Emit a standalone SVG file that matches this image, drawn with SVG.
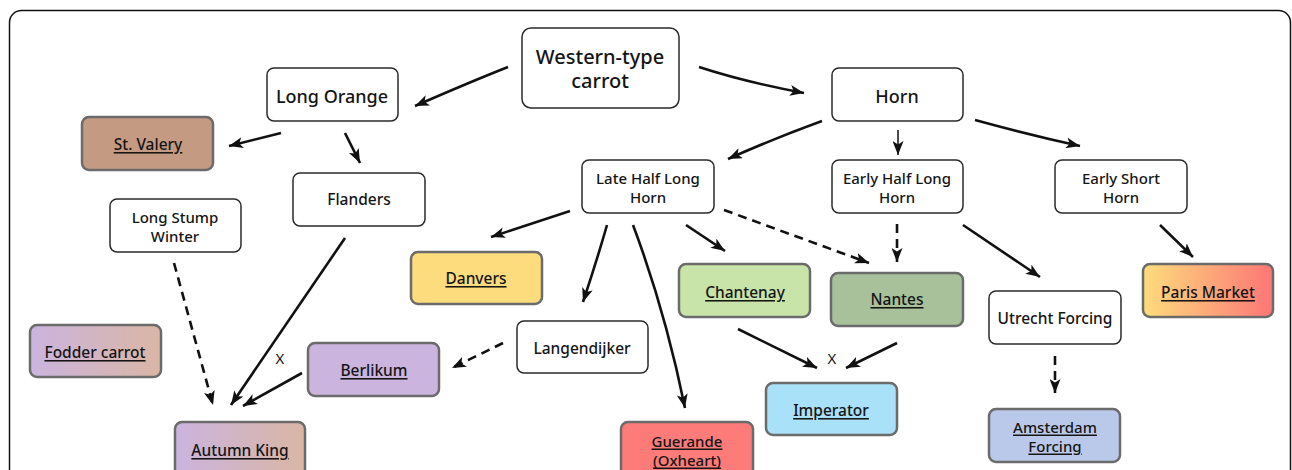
<svg xmlns="http://www.w3.org/2000/svg" width="1292" height="470" viewBox="0 0 1292 470">
<style>
text{font-family:"Noto Sans","Open Sans","DejaVu Sans",sans-serif;font-weight:500;fill:#151515;text-anchor:middle;dominant-baseline:central}
.w{fill:#fff;stroke:#2a2a2a;stroke-width:1.5}
.c{stroke:#6b6b6b;stroke-width:2.5}
.u{text-decoration:underline;font-size:15.5px}
.t{font-size:15.5px}
.s{font-size:15px}
.e{stroke:#111;stroke-width:2.6;fill:none;marker-end:url(#ah)}
.d{stroke-dasharray:9 6}
</style>
<defs>
<marker id="ah" markerUnits="userSpaceOnUse" markerWidth="15" markerHeight="11" refX="14" refY="5.5" orient="auto">
<path d="M0,0 L14,5.5 L0,11 L3.5,5.5 z" fill="#111"/>
</marker>
<linearGradient id="gPM" x1="0" x2="1" y1="0" y2="0"><stop offset="0" stop-color="#fedc7c"/><stop offset="1" stop-color="#fd7676"/></linearGradient>
<linearGradient id="gPB" x1="0" x2="1" y1="0" y2="0"><stop offset="0" stop-color="#cbb4df"/><stop offset="1" stop-color="#dab6a4"/></linearGradient>
</defs>
<rect x="9.5" y="10.5" width="1281" height="480" rx="12" fill="#fff" stroke="#111" stroke-width="1.5"/>

<g id="connectors">
<path class="e" d="M508,67 Q470,82 415,106"/>
<path class="e" d="M699,67 Q745,82 804,93"/>
<path class="e" d="M281,133 L229,146"/>
<path class="e" d="M345,133 L360,163"/>
<path class="e" d="M822,121 Q770,140 728,159"/>
<path class="e" style="stroke-width:1.5" d="M898,130 L898,155"/>
<path class="e" d="M975,120 Q1030,135 1080,146"/>
<path class="e" d="M570,211 L491,237"/>
<path class="e" d="M607,225 Q597,260 583,302"/>
<path class="e" d="M633,225 Q665,310 685,408"/>
<path class="e" d="M686,225 L725,251"/>
<path class="e d" d="M724,210 L869,263"/>
<path class="e d" d="M897,224 L897,262"/>
<path class="e" d="M963,225 L1040,277"/>
<path class="e" d="M1160,225 L1193,257"/>
<path class="e d" d="M174,263 L213,405"/>
<path class="e" d="M345,238 L231,405"/>
<path class="e" d="M302,373 L243,406"/>
<path class="e d" d="M503,343 L452,368"/>
<path class="e" d="M738,329 L817,368"/>
<path class="e" d="M897,343 L846,368"/>
<path class="e d" d="M1055,356 L1055,393"/>
<text x="280" y="358" style="font-size:15px;font-weight:400">X</text>
<text x="832" y="358" style="font-size:15px;font-weight:400">X</text>
</g>

<g id="western"><rect class="w" x="522" y="28" width="157" height="80" rx="9"/><text x="600" y="56" style="font-size:20px">Western-type</text><text x="600" y="80" style="font-size:20px">carrot</text></g>
<g id="long-orange"><rect class="w" x="267" y="68" width="131" height="53" rx="7"/><text x="332" y="96" style="font-size:18px">Long Orange</text></g>
<g id="horn"><rect class="w" x="832" y="68" width="131" height="53" rx="7"/><text x="897" y="96" style="font-size:18px">Horn</text></g>
<g id="st-valery"><rect class="c" x="82" y="117" width="131" height="53" rx="7" fill="#c49a82"/><text class="u" x="148" y="144">St. Valery</text></g>
<g id="flanders"><rect class="w" x="293" y="173" width="132" height="53" rx="7"/><text class="t" x="359" y="199">Flanders</text></g>
<g id="long-stump-winter"><rect class="w" x="110" y="199" width="131" height="53" rx="7"/><text class="s" x="175" y="216.5">Long Stump</text><text class="s" x="175" y="235.5">Winter</text></g>
<g id="late-half-long-horn"><rect class="w" x="582" y="160" width="132" height="53" rx="7"/><text class="s" x="648" y="177.5">Late Half Long</text><text class="s" x="648" y="196.5">Horn</text></g>
<g id="early-half-long-horn"><rect class="w" x="832" y="160" width="131" height="53" rx="7"/><text class="s" x="897" y="177.5">Early Half Long</text><text class="s" x="897" y="196.5">Horn</text></g>
<g id="early-short-horn"><rect class="w" x="1055" y="160" width="132" height="53" rx="7"/><text class="s" x="1121" y="177.5">Early Short</text><text class="s" x="1121" y="196.5">Horn</text></g>
<g id="danvers"><rect class="c" x="411" y="252" width="131" height="52" rx="7" fill="#fddc7e"/><text class="u" x="476" y="278">Danvers</text></g>
<g id="chantenay"><rect class="c" x="679" y="264" width="131" height="53" rx="7" fill="#c9e4a9"/><text class="u" x="745" y="292">Chantenay</text></g>
<g id="nantes"><rect class="c" x="831" y="273" width="132" height="53" rx="7" fill="#a9c19a"/><text class="u" x="897" y="299">Nantes</text></g>
<g id="utrecht-forcing"><rect class="w" x="989" y="291" width="132" height="53" rx="7"/><text class="t" x="1055" y="318">Utrecht Forcing</text></g>
<g id="paris-market"><rect class="c" x="1143" y="264" width="130" height="53" rx="7" fill="url(#gPM)"/><text class="u" x="1208" y="292">Paris Market</text></g>
<g id="fodder-carrot"><rect class="c" x="30" y="325" width="131" height="52" rx="7" fill="url(#gPB)"/><text class="u" x="95" y="352">Fodder carrot</text></g>
<g id="berlikum"><rect class="c" x="308" y="343" width="131" height="53" rx="7" fill="#cbb4de"/><text class="u" x="374" y="370">Berlikum</text></g>
<g id="langendijker"><rect class="w" x="517" y="321" width="131" height="52" rx="7"/><text class="t" x="582" y="348">Langendijker</text></g>
<g id="imperator"><rect class="c" x="766" y="383" width="131" height="52" rx="7" fill="#a9e1f8"/><text class="u" x="831" y="410">Imperator</text></g>
<g id="amsterdam-forcing"><rect class="c" x="989" y="409" width="131" height="53" rx="7" fill="#bac9e9"/><text class="u s" x="1055" y="426.5">Amsterdam</text><text class="u s" x="1055" y="445.5">Forcing</text></g>
<g id="autumn-king"><rect class="c" x="175" y="422" width="130" height="60" rx="7" fill="url(#gPB)"/><text class="u" x="240" y="450">Autumn King</text></g>
<g id="guerande"><rect class="c" x="621" y="422" width="132" height="60" rx="7" fill="#fd7c79"/><text class="u s" x="687" y="440.5">Guerande</text><text class="u s" x="687" y="459.5">(Oxheart)</text></g>
</svg>
